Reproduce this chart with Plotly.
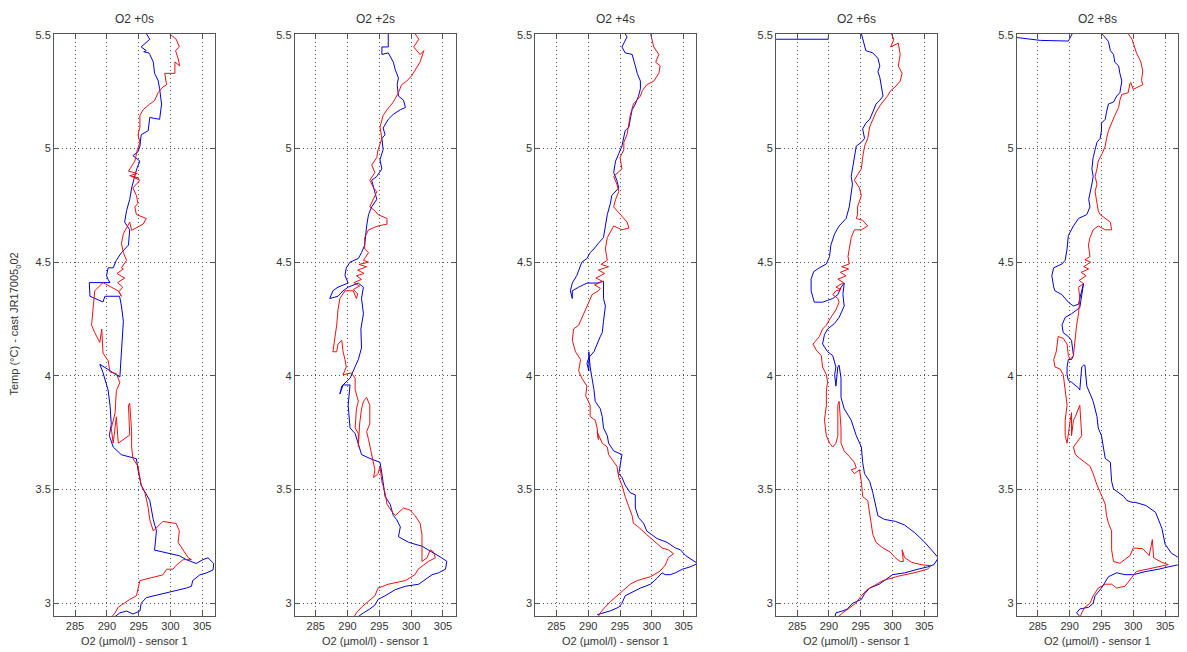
import plotly.graph_objects as go

PANEL_TITLES = ["O2 +0s", "O2 +2s", "O2 +4s", "O2 +6s", "O2 +8s"]
X_LABEL = "O2 (µmol/l) - sensor 1"
Y_LABEL = "Temp (°C) - cast JR17005<sub>0</sub>02"
X_TICKS = [285, 290, 295, 300, 305]
Y_TICKS = [3, 3.5, 4, 4.5, 5, 5.5]
Y_TICK_LABELS = ["3", "3.5", "4", "4.5", "5", "5.5"]
X_RANGE = [281.7, 307.0]
Y_RANGE = [2.943, 5.504]

# (O2, Temp) samples, sensor 1 profile (blue) and lagged profile (red)
p1_blue = [(296.2,5.505),(296.75,5.48),(295.4,5.446),(296.2,5.43),(295.8,5.425),(296.6,5.42),(296.75,5.413),(297.3,5.38),(297.5,5.33),(298.05,5.30),(298.3,5.262),(298.6,5.195),(298.3,5.128),(296.75,5.136),(296.5,5.078),(295.4,5.06),(295.2,5.01),(294.9,4.985),(294.1,4.968),(295.2,4.944),(294.7,4.91),(294.4,4.877),(293.9,4.826),(293.6,4.776),(293.1,4.726),(292.8,4.676),(293.6,4.642),(293.4,4.575),(292.3,4.542),(291.5,4.508),(291.0,4.475),(290.2,4.475),(289.96,4.441),(290.2,4.424),(290.5,4.41),(287.25,4.41),(287.35,4.35),(289.4,4.325),(289.7,4.35),(292.0,4.35),(292.3,4.307),(292.6,4.24),(292.3,4.122),(292.05,3.995),(288.9,4.051),(289.4,4.014),(290.2,3.938),(290.5,3.871),(290.7,3.787),(290.4,3.737),(291.0,3.687),(292.3,3.653),(294.65,3.636),(294.9,3.586),(295.4,3.519),(296.75,3.452),(297.3,3.368),(297.8,3.318),(297.5,3.234),(298.8,3.225),(301.4,3.209),(302.5,3.192),(304.05,3.175),(305.1,3.192),(305.9,3.2),(306.8,3.175),(306.7,3.147),(305.6,3.133),(304.6,3.125),(303.5,3.1),(303.3,3.075),(302.5,3.067),(299.9,3.05),(297.8,3.033),(296.2,3.025),(295.4,3.0),(295.2,2.966),(294.1,2.953),(293.1,2.966),(292.05,2.958),(291.3,2.942)]
p1_red = [(299.6,5.51),(300.9,5.48),(301.4,5.446),(300.8,5.43),(301.2,5.396),(301.45,5.363),(300.7,5.38),(300.7,5.33),(299.1,5.33),(299.4,5.28),(298.8,5.27),(298.05,5.245),(297.5,5.21),(296.75,5.195),(295.7,5.17),(295.2,5.145),(295.2,5.094),(294.9,5.06),(295.2,5.027),(294.8,4.994),(294.4,4.944),(293.4,4.90),(294.8,4.89),(293.6,4.88),(295.0,4.87),(293.9,4.877),(295.2,4.86),(294.1,4.826),(294.65,4.793),(294.9,4.759),(294.4,4.742),(294.65,4.709),(296.2,4.692),(295.7,4.667),(293.9,4.64),(293.6,4.676),(292.6,4.625),(292.3,4.583),(292.6,4.542),(293.1,4.508),(292.3,4.475),(292.6,4.47),(291.6,4.45),(292.8,4.43),(291.7,4.41),(292.5,4.39),(291.9,4.37),(292.3,4.35),(291.8,4.374),(290.7,4.39),(289.4,4.41),(288.1,4.374),(287.9,4.324),(287.6,4.223),(288.1,4.19),(288.9,4.147),(289.2,4.206),(289.4,4.10),(290.2,4.067),(290.5,4.017),(291.5,4.01),(292.05,3.97),(291.5,3.936),(291.3,3.836),(290.7,3.77),(291.0,3.704),(291.5,3.82),(291.8,3.704),(293.6,3.74),(293.4,3.871),(293.6,3.88),(293.9,3.755),(293.9,3.687),(294.1,3.636),(294.9,3.603),(295.2,3.553),(295.4,3.519),(296.0,3.485),(296.5,3.42),(296.75,3.368),(297.3,3.318),(298.8,3.36),(300.9,3.351),(301.4,3.318),(301.2,3.268),(302.0,3.234),(302.8,3.2),(303.3,3.192),(302.0,3.192),(300.9,3.167),(300.4,3.15),(299.4,3.15),(298.8,3.125),(295.2,3.1),(294.9,3.067),(294.65,3.033),(293.6,3.017),(292.6,3.0),(291.8,2.983),(291.3,2.958),(290.8,2.942)]

p2_blue = [(296.4,5.51),(296.4,5.446),(295.4,5.446),(295.4,5.413),(296.4,5.42),(297.2,5.379),(297.5,5.346),(298.0,5.31),(297.8,5.28),(298.0,5.23),(298.8,5.212),(299.1,5.18),(298.3,5.17),(297.2,5.15),(296.4,5.128),(295.6,5.09),(295.9,5.06),(295.4,5.044),(295.6,4.995),(295.1,4.95),(295.4,4.91),(294.6,4.877),(293.8,4.86),(294.3,4.81),(294.6,4.776),(293.8,4.743),(293.3,4.709),(293.0,4.659),(292.7,4.575),(292.2,4.542),(291.7,4.516),(290.4,4.5),(289.8,4.475),(289.6,4.441),(290.1,4.408),(288.5,4.39),(287.7,4.374),(287.2,4.34),(288.5,4.35),(289.3,4.374),(290.1,4.39),(291.7,4.408),(292.5,4.39),(292.2,4.34),(292.5,4.273),(292.1,4.206),(292.2,4.123),(291.7,4.072),(290.9,4.022),(290.4,3.99),(289.1,3.955),(288.8,3.92),(289.3,3.96),(290.4,3.96),(290.1,3.871),(290.4,3.771),(291.2,3.746),(291.7,3.704),(292.2,3.654),(293.5,3.637),(295.1,3.62),(295.4,3.57),(295.6,3.536),(295.9,3.47),(296.7,3.436),(297.2,3.386),(297.7,3.369),(298.3,3.336),(298.0,3.293),(299.6,3.268),(301.7,3.251),(303.3,3.226),(304.1,3.21),(304.8,3.2),(305.6,3.185),(305.4,3.15),(304.3,3.134),(303.3,3.126),(302.5,3.11),(301.2,3.084),(299.1,3.075),(297.5,3.06),(295.9,3.033),(294.8,3.017),(294.3,2.992),(293.5,2.975),(292.5,2.958),(291.7,2.942)]
p2_red = [(299.1,5.51),(300.6,5.505),(301.2,5.48),(300.4,5.446),(301.4,5.413),(302.0,5.43),(301.4,5.38),(300.9,5.355),(300.1,5.32),(299.3,5.296),(298.5,5.28),(298.0,5.245),(297.2,5.204),(296.2,5.17),(295.6,5.145),(295.1,5.094),(295.4,5.044),(294.8,4.994),(294.6,4.96),(293.8,4.927),(294.3,4.894),(293.5,4.86),(294.1,4.826),(294.6,4.81),(294.1,4.776),(293.5,4.743),(294.3,4.726),(294.8,4.709),(296.2,4.692),(296.2,4.667),(294.8,4.659),(293.3,4.642),(292.7,4.608),(292.7,4.558),(293.3,4.542),(292.5,4.508),(293.3,4.50),(291.8,4.49),(293.0,4.48),(291.6,4.465),(292.6,4.45),(291.4,4.44),(292.2,4.424),(291.0,4.41),(291.9,4.395),(290.9,4.38),(291.6,4.36),(291.4,4.34),(290.9,4.374),(289.6,4.374),(288.8,4.34),(288.5,4.29),(288.3,4.223),(288.0,4.156),(287.7,4.106),(288.3,4.106),(288.5,4.14),(289.1,4.156),(289.3,4.106),(289.6,4.072),(289.8,4.039),(289.3,4.005),(290.6,4.013),(291.2,3.99),(291.2,3.94),(291.7,3.888),(291.4,3.855),(291.2,3.771),(291.7,3.746),(291.7,3.687),(291.9,3.788),(292.2,3.855),(292.5,3.888),(293.0,3.905),(293.5,3.871),(293.5,3.788),(293.0,3.755),(293.3,3.72),(294.1,3.62),(294.3,3.587),(294.1,3.553),(294.8,3.57),(295.1,3.603),(295.4,3.536),(295.9,3.486),(296.2,3.436),(297.0,3.402),(297.5,3.386),(298.8,3.419),(299.8,3.41),(300.6,3.386),(301.4,3.352),(301.7,3.302),(301.7,3.184),(302.5,3.2),(303.0,3.235),(303.5,3.226),(303.8,3.2),(302.7,3.184),(301.1,3.15),(300.6,3.126),(299.1,3.1),(296.4,3.084),(294.8,3.067),(294.3,3.033),(293.3,3.008),(292.2,2.983),(291.4,2.958),(290.9,2.933)]

p3_blue = [(295.8,5.505),(296.1,5.49),(295.3,5.446),(295.8,5.42),(296.9,5.413),(297.1,5.396),(297.4,5.363),(297.7,5.33),(298.2,5.296),(298.2,5.262),(297.9,5.23),(297.4,5.195),(296.9,5.17),(296.6,5.128),(296.4,5.094),(295.8,5.078),(295.6,5.044),(295.3,5.01),(294.8,4.977),(294.3,4.944),(294.0,4.894),(294.5,4.86),(294.8,4.826),(293.7,4.793),(293.5,4.76),(293.0,4.709),(292.7,4.659),(292.4,4.608),(291.6,4.583),(290.9,4.558),(290.3,4.542),(289.8,4.516),(289.0,4.5),(288.2,4.441),(287.5,4.408),(287.2,4.374),(287.5,4.34),(287.5,4.374),(288.5,4.39),(289.8,4.408),(291.4,4.408),(292.4,4.416),(292.4,4.34),(292.7,4.307),(292.4,4.24),(292.2,4.19),(291.9,4.173),(291.4,4.14),(290.9,4.106),(290.1,4.081),(289.8,4.055),(290.1,4.022),(290.1,4.106),(290.3,4.039),(290.6,3.99),(290.9,3.94),(291.1,3.888),(291.9,3.855),(292.2,3.821),(292.4,3.771),(293.0,3.737),(293.2,3.704),(294.0,3.67),(294.8,3.662),(295.3,3.654),(295.0,3.603),(294.8,3.57),(295.3,3.553),(295.8,3.52),(296.6,3.486),(297.4,3.477),(297.4,3.419),(297.9,3.377),(298.7,3.352),(299.2,3.318),(300.8,3.285),(302.4,3.268),(303.7,3.243),(304.5,3.235),(305.3,3.21),(306.5,3.19),(307.2,3.175),(306.0,3.16),(304.8,3.15),(303.7,3.134),(302.9,3.126),(302.1,3.126),(301.6,3.134),(300.8,3.11),(299.8,3.084),(298.2,3.067),(297.1,3.05),(295.8,3.033),(295.3,3.0),(294.8,2.983),(293.5,2.967),(292.4,2.958),(291.4,2.95)]
p3_red = [(299.8,5.505),(300.0,5.48),(300.3,5.446),(301.1,5.413),(300.6,5.379),(301.3,5.363),(301.1,5.33),(300.3,5.296),(299.2,5.28),(298.5,5.254),(298.2,5.23),(297.1,5.195),(296.6,5.145),(296.4,5.111),(296.1,5.061),(295.6,5.027),(295.6,4.994),(295.0,4.96),(295.3,4.91),(294.0,4.877),(294.5,4.843),(294.8,4.81),(294.3,4.776),(294.0,4.743),(295.0,4.709),(296.1,4.676),(296.4,4.65),(295.3,4.642),(294.0,4.659),(293.0,4.608),(292.7,4.558),(293.0,4.508),(292.0,4.49),(293.2,4.48),(291.6,4.465),(292.6,4.45),(291.2,4.43),(292.3,4.415),(291.0,4.40),(291.9,4.385),(291.6,4.374),(290.6,4.357),(290.1,4.324),(289.6,4.29),(289.0,4.257),(288.5,4.223),(287.7,4.206),(287.5,4.156),(288.0,4.106),(288.8,4.072),(288.5,4.022),(289.0,3.99),(289.8,3.955),(289.6,3.913),(290.3,3.871),(290.3,3.821),(291.1,3.805),(291.4,3.771),(291.6,3.72),(291.4,3.754),(292.2,3.704),(293.0,3.687),(293.2,3.654),(294.0,3.62),(294.5,3.603),(294.8,3.553),(295.3,3.52),(295.8,3.469),(296.4,3.427),(296.9,3.385),(297.1,3.352),(297.9,3.335),(299.2,3.302),(300.5,3.268),(301.6,3.243),(302.6,3.235),(303.4,3.218),(302.6,3.201),(302.1,3.168),(301.3,3.142),(299.8,3.117),(297.7,3.1),(296.6,3.084),(295.6,3.059),(294.5,3.033),(293.5,3.008),(292.4,2.975),(291.9,2.958),(291.4,2.933)]

p4_blue = [(281.0,5.48),(289.9,5.48),(290.0,5.53),(295.0,5.53),(295.1,5.505),(295.3,5.48),(295.6,5.446),(295.8,5.43),(296.9,5.42),(297.7,5.396),(298.0,5.363),(297.7,5.337),(298.0,5.312),(298.2,5.28),(298.5,5.23),(298.0,5.212),(297.4,5.195),(296.9,5.16),(296.4,5.128),(295.8,5.111),(295.3,5.086),(295.6,5.044),(295.1,5.027),(294.3,5.01),(294.0,4.96),(293.7,4.91),(293.5,4.877),(293.7,4.843),(293.5,4.793),(293.2,4.743),(292.7,4.692),(291.6,4.659),(290.9,4.625),(290.3,4.575),(290.1,4.525),(289.6,4.492),(288.5,4.475),(287.6,4.458),(287.2,4.425),(287.2,4.374),(287.7,4.324),(289.0,4.324),(289.8,4.332),(290.6,4.34),(291.4,4.357),(291.9,4.39),(292.4,4.408),(292.2,4.357),(292.4,4.307),(291.6,4.257),(290.9,4.231),(289.8,4.206),(289.3,4.181),(289.0,4.14),(289.8,4.106),(290.6,4.089),(291.1,4.039),(290.9,4.005),(291.1,3.955),(291.4,4.039),(291.6,4.047),(291.9,3.99),(291.9,3.905),(292.4,3.855),(293.5,3.805),(294.3,3.737),(295.1,3.687),(295.3,3.62),(295.6,3.57),(296.4,3.536),(296.9,3.486),(297.4,3.419),(297.7,3.385),(298.7,3.369),(300.5,3.36),(301.9,3.344),(303.5,3.31),(305.0,3.27),(306.0,3.24),(307.2,3.2),(306.5,3.17),(305.5,3.16),(304.0,3.15),(301.9,3.134),(300.0,3.126),(299.2,3.11),(297.9,3.084),(296.4,3.067),(295.6,3.042),(295.1,3.017),(293.7,3.0),(292.9,2.975),(292.2,2.967),(291.1,2.958),(290.9,2.933)]
p4_red = [(299.8,5.505),(300.2,5.48),(299.7,5.446),(300.9,5.463),(301.2,5.413),(300.9,5.363),(301.5,5.33),(301.2,5.296),(300.4,5.27),(299.7,5.254),(299.2,5.23),(298.2,5.195),(297.4,5.16),(296.9,5.128),(296.4,5.094),(296.1,5.044),(295.6,5.01),(295.3,4.96),(295.1,4.91),(294.5,4.885),(294.0,4.86),(294.8,4.826),(295.1,4.793),(294.5,4.743),(294.5,4.709),(294.3,4.692),(295.3,4.684),(296.1,4.659),(295.1,4.642),(294.0,4.642),(293.5,4.608),(293.2,4.558),(293.0,4.525),(293.2,4.492),(292.0,4.48),(293.1,4.47),(291.8,4.455),(292.7,4.44),(291.4,4.425),(292.3,4.41),(291.1,4.39),(291.9,4.38),(291.1,4.374),(290.6,4.357),(291.4,4.34),(291.6,4.324),(291.1,4.29),(290.3,4.257),(289.6,4.223),(289.0,4.206),(288.5,4.173),(288.0,4.156),(287.5,4.14),(288.0,4.114),(288.8,4.089),(289.0,4.039),(289.6,4.005),(289.8,3.972),(289.6,3.938),(289.6,3.871),(289.3,3.805),(289.6,3.737),(290.1,3.704),(290.6,3.687),(291.1,3.704),(291.4,3.737),(291.4,3.871),(291.6,3.888),(291.9,3.771),(291.9,3.704),(292.4,3.67),(293.2,3.646),(294.0,3.62),(294.3,3.595),(293.5,3.587),(294.0,3.57),(294.8,3.587),(295.1,3.536),(295.3,3.469),(296.1,3.452),(296.4,3.402),(296.6,3.352),(296.9,3.302),(297.4,3.268),(298.5,3.243),(299.6,3.226),(300.4,3.201),(301.2,3.184),(301.7,3.184),(301.5,3.235),(301.9,3.201),(303.0,3.18),(304.5,3.17),(306.0,3.165),(305.5,3.15),(303.5,3.135),(301.0,3.12),(298.5,3.10),(296.0,3.06),(295.0,3.03),(294.2,3.0),(293.0,2.975),(292.0,2.955),(291.5,2.94)]

p5_blue = [(281.0,5.49),(285.4,5.475),(289.8,5.472),(290.9,5.53),(295.0,5.53),(295.0,5.505),(295.3,5.497),(296.1,5.47),(296.4,5.43),(296.9,5.413),(297.1,5.379),(297.7,5.363),(297.9,5.33),(298.2,5.296),(297.9,5.245),(297.4,5.23),(296.9,5.204),(296.1,5.195),(295.8,5.16),(295.6,5.128),(295.0,5.111),(295.0,5.078),(294.8,5.044),(294.3,5.027),(294.0,4.994),(293.7,4.96),(293.5,4.91),(293.7,4.877),(293.5,4.843),(293.2,4.81),(293.0,4.776),(293.2,4.743),(292.7,4.709),(291.4,4.692),(290.6,4.659),(289.8,4.617),(289.6,4.558),(289.3,4.508),(288.8,4.492),(287.5,4.475),(287.2,4.441),(287.5,4.39),(287.7,4.374),(288.8,4.357),(289.8,4.324),(290.6,4.307),(291.4,4.315),(291.6,4.34),(291.9,4.374),(292.2,4.408),(291.6,4.3),(290.3,4.273),(289.3,4.257),(288.8,4.223),(289.0,4.19),(289.8,4.173),(290.3,4.156),(290.6,4.089),(290.3,4.072),(289.8,4.072),(289.6,4.039),(289.6,4.005),(289.8,3.98),(290.3,3.972),(291.4,3.947),(291.6,3.938),(291.9,4.039),(292.2,4.047),(292.4,4.047),(292.7,3.955),(293.2,3.922),(293.7,3.888),(294.3,3.821),(294.5,3.771),(295.0,3.737),(295.3,3.687),(295.6,3.637),(296.4,3.62),(296.6,3.536),(296.9,3.503),(297.7,3.486),(298.5,3.47),(299.0,3.452),(299.8,3.444),(300.3,3.444),(302.0,3.43),(303.5,3.40),(304.5,3.33),(305.0,3.26),(306.0,3.22),(307.2,3.20),(307.2,3.17),(305.5,3.16),(304.0,3.15),(302.0,3.14),(300.0,3.126),(298.7,3.126),(297.4,3.134),(296.1,3.117),(295.6,3.092),(295.0,3.067),(294.5,3.05),(294.0,3.033),(293.7,3.0),(293.0,2.983),(291.6,2.975),(291.1,2.958),(291.6,2.942)]
p5_red = [(299.2,5.505),(299.8,5.48),(300.5,5.42),(301.2,5.38),(301.5,5.34),(301.3,5.30),(301.5,5.28),(300.6,5.27),(300.0,5.26),(299.6,5.29),(299.5,5.287),(299.2,5.245),(298.2,5.237),(297.9,5.212),(297.7,5.18),(297.1,5.145),(296.6,5.111),(296.1,5.078),(295.8,5.044),(295.6,5.01),(295.1,4.977),(294.5,4.944),(294.3,4.91),(294.0,4.877),(294.3,4.843),(294.0,4.81),(294.3,4.76),(294.5,4.726),(294.8,4.709),(295.6,4.692),(296.4,4.676),(296.6,4.642),(295.6,4.642),(294.5,4.659),(293.7,4.642),(293.2,4.608),(292.96,4.575),(293.2,4.525),(292.4,4.51),(293.3,4.50),(292.2,4.48),(293.0,4.47),(291.8,4.455),(292.6,4.44),(291.5,4.42),(292.2,4.405),(291.4,4.39),(291.6,4.34),(291.4,4.273),(291.1,4.223),(290.9,4.156),(290.6,4.089),(290.1,4.072),(289.8,4.089),(289.6,4.14),(289.0,4.165),(288.2,4.173),(287.9,4.106),(287.5,4.072),(287.7,4.039),(288.5,4.03),(289.0,4.005),(289.3,3.938),(289.6,3.871),(289.3,3.805),(289.3,3.737),(289.6,3.704),(289.8,3.754),(290.1,3.805),(290.3,3.838),(290.3,3.737),(290.6,3.805),(290.9,3.821),(291.6,3.871),(291.9,3.737),(290.6,3.687),(290.9,3.654),(291.6,3.637),(292.4,3.62),(293.2,3.603),(293.7,3.57),(294.3,3.52),(295.1,3.469),(295.6,3.436),(295.8,3.386),(296.1,3.352),(296.6,3.318),(296.6,3.235),(296.9,3.184),(297.9,3.176),(298.7,3.193),(299.5,3.21),(300.0,3.243),(301.5,3.24),(302.5,3.21),(303.0,3.28),(303.2,3.20),(304.5,3.18),(305.5,3.17),(304.0,3.16),(302.0,3.15),(300.5,3.14),(298.7,3.075),(297.4,3.067),(296.6,3.084),(295.6,3.084),(294.5,3.067),(293.7,3.033),(293.2,3.0),(292.4,2.983),(291.9,2.958),(291.6,2.933)]

PANELS = [(p1_blue, p1_red), (p2_blue, p2_red), (p3_blue, p3_red), (p4_blue, p4_red), (p5_blue, p5_red)]

BLUE = "#0000dd"
RED = "#ee1111"
FONT = "Liberation Sans, Arial, sans-serif"
TXT = "#333333"
W, H = 1187, 652
LEFT0, STEP, PW = 54, 240.7, 161
TOP, BOT = 29, 616

fig = go.Figure()
layout = dict(width=W, height=H, margin=dict(l=0, r=0, t=0, b=0),
              paper_bgcolor="white", plot_bgcolor="white", showlegend=False,
              font=dict(family=FONT, size=11, color=TXT))
ann = []
for i, (blue, red) in enumerate(PANELS):
    k = "" if i == 0 else str(i + 1)
    xa, ya = "x" + k, "y" + k
    for pts, col in ((blue, BLUE), (red, RED)):
        fig.add_trace(go.Scatter(x=[p[0] for p in pts], y=[p[1] for p in pts],
                                 mode="lines", line=dict(color=col, width=1),
                                 xaxis=xa, yaxis=ya, hoverinfo="skip"))
    l = LEFT0 + STEP * i
    dom = [l / W, (l + PW) / W]
    common = dict(showline=True, linecolor="#555555", linewidth=1, mirror="allticks",
                  ticks="inside", ticklen=5, tickcolor="#555555",
                  showgrid=True, gridcolor="#555555", gridwidth=1, griddash="1px,3px",
                  zeroline=False, tickfont=dict(family=FONT, size=11, color=TXT))
    layout["xaxis" + k] = dict(domain=dom, range=X_RANGE, tickvals=X_TICKS,
                               anchor=ya, **common)
    layout["yaxis" + k] = dict(domain=[1 - BOT / H, 1 - TOP / H], range=Y_RANGE,
                               tickvals=Y_TICKS, ticktext=Y_TICK_LABELS,
                               anchor=xa, **common)
    cx = (dom[0] + dom[1]) / 2
    ann.append(dict(text=PANEL_TITLES[i], x=cx, y=1 - 14 / H, xref="paper", yref="paper",
                    showarrow=False, xanchor="center", yanchor="middle",
                    font=dict(family=FONT, size=12, color=TXT)))
    ann.append(dict(text=X_LABEL, x=cx, y=1 - 641 / H, xref="paper", yref="paper",
                    showarrow=False, xanchor="center", yanchor="middle",
                    font=dict(family=FONT, size=11, color=TXT)))
ann.append(dict(text=Y_LABEL, x=15 / W, y=1 - 322 / H, xref="paper", yref="paper",
                showarrow=False, xanchor="center", yanchor="middle", textangle=-90,
                font=dict(family=FONT, size=11, color=TXT)))
layout["annotations"] = ann
fig.update_layout(**layout)
fig.write_html("out.html")
